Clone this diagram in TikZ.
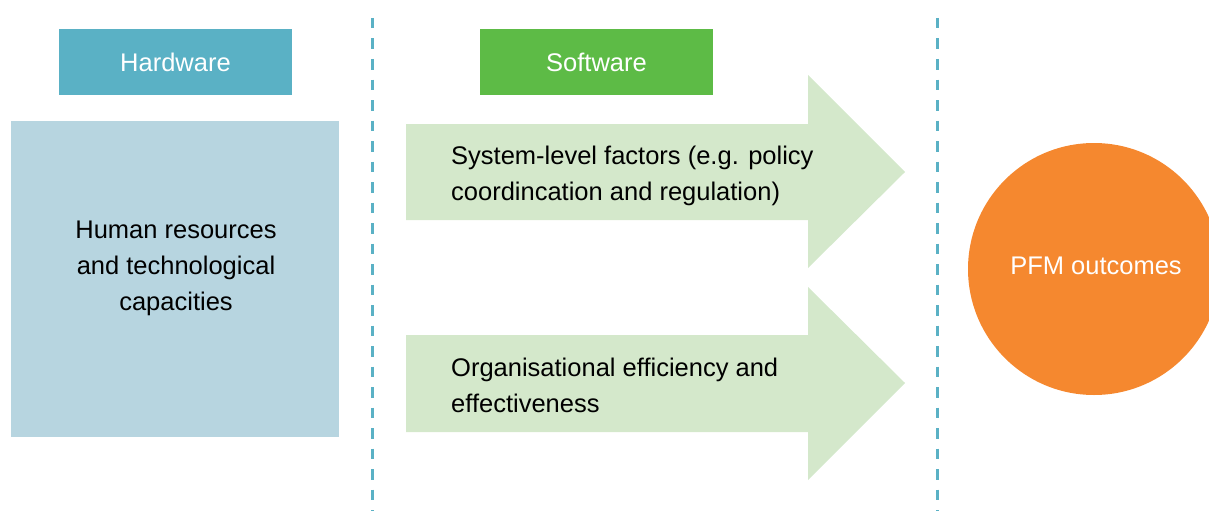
\documentclass[tikz,border=0pt]{standalone}
\usepackage{fontspec}
\setmainfont{Liberation Sans}
\definecolor{hwblue}{HTML}{5AB1C5}
\definecolor{swgreen}{HTML}{5DBB46}
\definecolor{paleblue}{HTML}{B7D5E0}
\definecolor{palegreen}{HTML}{D4E8CB}
\definecolor{pfmorange}{HTML}{F5882F}
\begin{document}
\begin{tikzpicture}[x=1pt,y=-1pt,
  txt/.style={font=\fontsize{25.5}{36}\selectfont},
  header/.style={rectangle,minimum width=233pt,minimum height=66pt,inner sep=0pt,text=white,txt},
  divider/.style={hwblue,line width=3pt,dash pattern=on 10.5pt off 10pt},
  flowarrow/.style={fill=palegreen,draw=none}]
\useasboundingbox (0,0) rectangle (1209,511);
\clip (0,0) rectangle (1209,511);

% column dividers
\coordinate (d1top) at (372,18);
\coordinate (d1bot) at (372,511);
\coordinate (d2top) at (937,18);
\coordinate (d2bot) at (937,511);
\draw[divider] (d1top) -- (d1bot);
\draw[divider] (d2top) -- (d2bot);

% column headers
\node[header,fill=hwblue] (hw) at (175.5,62) {Hardware};
\node[header,fill=swgreen] (sw) at (596.5,62) {Software};

% hardware box
\node[rectangle,fill=paleblue,minimum width=328pt,minimum height=316pt,inner sep=0pt] (human) at (175,279) {};
\node[align=center,inner sep=0pt,txt] (humantext) at (176,268)
  {Human resources\\and technological\\capacities};

% software arrows
\fill[flowarrow] (406,124) -- (808,124) -- (808,75) -- (905,172) -- (808,268)
  -- (808,220) -- (406,220) -- cycle;
\fill[flowarrow] (406,335) -- (808,335) -- (808,287) -- (905,383) -- (808,480)
  -- (808,432) -- (406,432) -- cycle;
\node[anchor=west,align=left,inner sep=0pt,txt] (sys) at (451,176)
  {System-level factors (e.g. policy\\coordincation and regulation)};
\node[anchor=west,align=left,inner sep=0pt,txt] (org) at (451,385)
  {Organisational efficiency and\\effectiveness};

% outcome
\node[circle,fill=pfmorange,minimum size=252pt,inner sep=0pt] (pfm) at (1094,269) {};
\node[text=white,txt,inner sep=0pt] (pfmtext) at (1096,266) {PFM outcomes};
\end{tikzpicture}
\end{document}
